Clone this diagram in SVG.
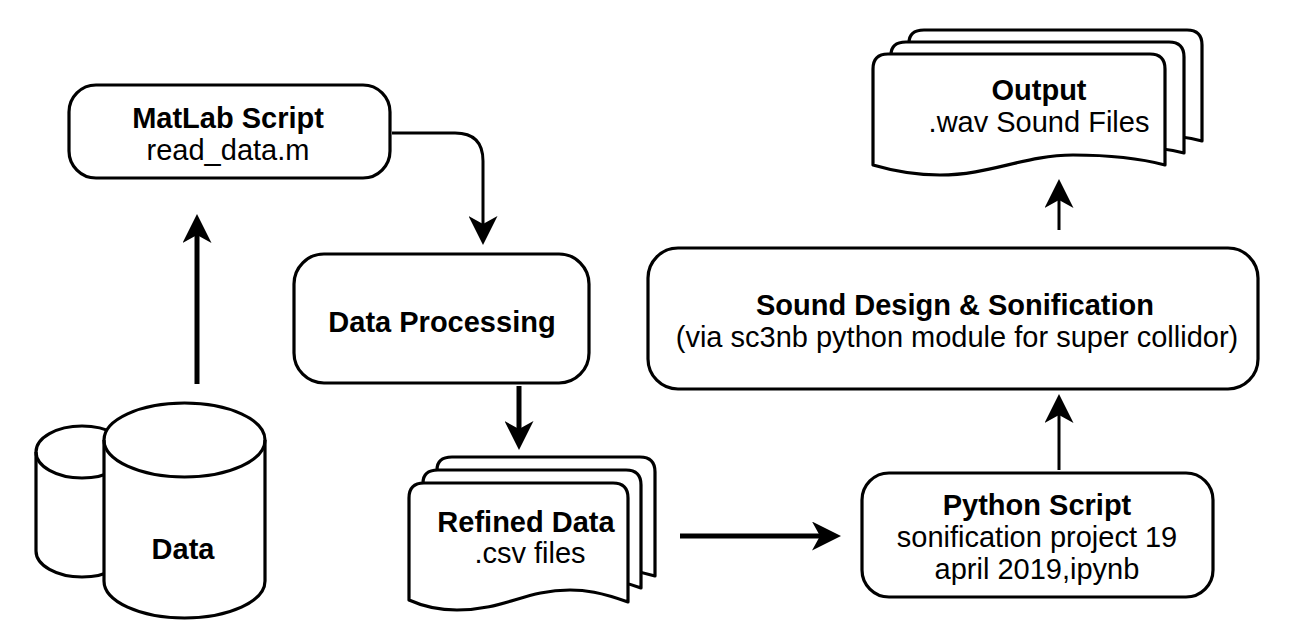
<svg xmlns="http://www.w3.org/2000/svg" width="1302" height="627" viewBox="0 0 1302 627">
<style>
.s{fill:#fff;stroke:#000;stroke-width:3.2;stroke-linejoin:round}
.c{fill:none;stroke:#000;stroke-linecap:butt}
.t{font-family:"Liberation Sans",Arial,sans-serif;font-size:29px;text-anchor:middle;fill:#000}
.b{font-weight:bold}
</style>
<defs>
<marker id="a" markerUnits="userSpaceOnUse" viewBox="0 0 29 29" markerWidth="29" markerHeight="29" refX="8" refY="14.5" orient="auto">
<path d="M0 0L29 14.5L0 29L8 14.5Z" fill="#000"/>
</marker>
</defs>
<rect width="1302" height="627" fill="#fff"/>
<g id="connectors">
<path class="c" stroke-width="5" d="M197 384V235" marker-end="url(#a)"/>
<path class="c" stroke-width="3" d="M392 133H455Q483 133 483 161V224" marker-end="url(#a)"/>
<path class="c" stroke-width="5" d="M519 386V429" marker-end="url(#a)"/>
<path class="c" stroke-width="5" d="M680 536H820" marker-end="url(#a)"/>
<path class="c" stroke-width="3" d="M1059 470V415" marker-end="url(#a)"/>
<path class="c" stroke-width="3" d="M1059 230V200" marker-end="url(#a)"/>
</g>
<g id="data">
<path class="s" d="M36 452A46 26 0 0 1 128 452V551A46 26 0 0 1 36 551Z"/>
<path class="c" stroke-width="3.2" d="M36 452A46 26 0 0 0 128 452"/>
<path class="s" d="M104 440A80.500 37 0 0 1 265 440V581A80.500 37 0 0 1 104 581Z"/>
<path class="c" stroke-width="3.2" d="M104 440A80.500 37 0 0 0 265 440"/>
<text class="t b" x="183" y="559">Data</text>
</g>
<g id="matlab">
<rect class="s" x="69" y="85" width="321" height="93" rx="27"/>
<text class="t b" x="228" y="128">MatLab Script</text>
<text class="t" x="228" y="160">read_data.m</text>
</g>
<g id="processing">
<rect class="s" x="294" y="254" width="295" height="129" rx="30"/>
<text class="t b" x="442" y="332">Data Processing</text>
</g>
<g id="refined">
<path class="s" d="M437 470Q437 457 452 457H640Q655 457 655 472V576Q600 560 550 576Z"/>
<path class="s" d="M423 483Q423 470 438 470H626Q641 470 641 485V588Q600 572 540 588Z"/>
<path class="s" d="M409 498Q409 483 424 483H613Q628 483 628 498V602C600 592 585 590 570 590C525 590 505 610 457 610C435 610 420 605 409 600Z"/>
<text class="t b" x="526" y="532">Refined Data</text>
<text class="t" x="530" y="563">.csv files</text>
</g>
<g id="output">
<path class="s" d="M909 43Q909 30 924 30H1187Q1202 30 1202 45V141Q1150 128 1100 141Z"/>
<path class="s" d="M891 55Q891 42 906 42H1169Q1184 42 1184 57V153Q1130 140 1080 153Z"/>
<path class="s" d="M873 69Q873 54 888 54H1150Q1165 54 1165 69V165C1135 157 1105 155 1073 155C1025 155 990 175 940 175C915 175 890 170 873 165Z"/>
<text class="t b" x="1039" y="100">Output</text>
<text class="t" x="1039" y="132">.wav Sound Files</text>
</g>
<g id="sound">
<rect class="s" x="648" y="248" width="610" height="141" rx="30"/>
<text class="t b" x="955" y="315">Sound Design &amp; Sonification</text>
<text class="t" x="957" y="347">(via sc3nb python module for super collidor)</text>
</g>
<g id="python">
<rect class="s" x="862" y="473" width="351" height="124" rx="27"/>
<text class="t b" x="1037" y="515">Python Script</text>
<text class="t" x="1037" y="547">sonification project 19</text>
<text class="t" x="1037" y="579">april 2019,ipynb</text>
</g>
</svg>
